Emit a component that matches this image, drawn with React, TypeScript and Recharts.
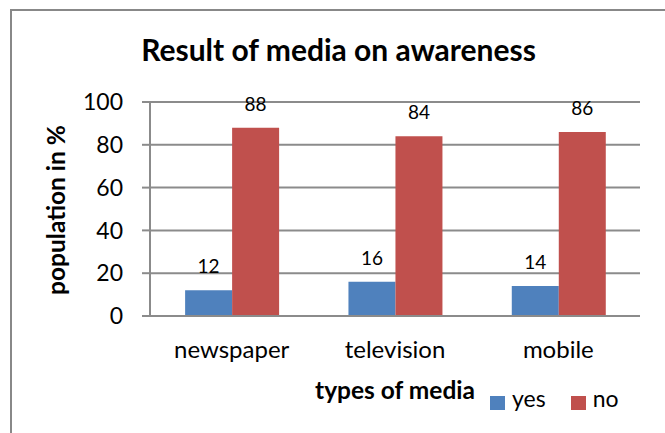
import { BarChart, Bar, XAxis, YAxis, CartesianGrid, LabelList, Label } from "recharts";

const categories = ["newspaper", "television", "mobile"];
const yesValues = [12, 16, 14];
const noValues = [88, 84, 86];
const yTicks = [0, 20, 40, 60, 80, 100];

const series = [
  { key: "yes", name: "yes", color: "#4F81BD" },
  { key: "no", name: "no", color: "#C0504D" },
];

const data = categories.map((c, i) => ({ name: c, yes: yesValues[i], no: noValues[i] }));

const GRID = "#8b8b8b";
const FONT = "Lato, 'Open Sans', sans-serif";

const YLabel = ({ viewBox }: any) => {
  const cy = viewBox.y + viewBox.height / 2 + 1;
  const x = 65;
  return (
    <text
      x={x}
      y={cy}
      transform={`rotate(-90 ${x} ${cy})`}
      textAnchor="middle"
      fontSize={24.5}
      fontWeight="bold"
      fill="#000"
    >
      population in %
    </text>
  );
};

const XLabel = ({ viewBox }: any) => (
  <text
    x={viewBox.x + viewBox.width / 2}
    y={viewBox.y + 83}
    textAnchor="middle"
    fontSize={24.5}
    fontWeight="bold"
    fill="#000"
  >
    types of media
  </text>
);

const App = () => {
  return (
    <div
      style={{
        position: "absolute",
        left: 0,
        top: 0,
        width: 665,
        height: 433,
        overflow: "hidden",
        background: "#fff",
        fontFamily: FONT,
      }}
    >
      {/* chart frame */}
      <div
        style={{
          position: "absolute",
          left: 10,
          top: 9,
          width: 700,
          height: 500,
          border: "2px solid #888",
          boxSizing: "border-box",
        }}
      />
      <svg width={665} height={80} style={{ position: "absolute", left: 0, top: 0 }}>
        <text x={338.5} y={60.5} textAnchor="middle" fontSize={30} fontWeight="bold" fill="#000">
          Result of media on awareness
        </text>
      </svg>
      <div style={{ position: "absolute", left: 0, top: 0 }}>
        <BarChart
          width={665}
          height={433}
          data={data}
          margin={{ top: 102, right: 25, left: 0, bottom: 87 }}
          barCategoryGap="21.5%"
          barGap={0}
        >
          <CartesianGrid vertical={false} stroke={GRID} strokeWidth={2} />
          <XAxis
            dataKey="name"
            height={30}
            tickLine={false}
            tickSize={0}
            tickMargin={25}
            axisLine={{ stroke: GRID, strokeWidth: 2 }}
            tick={{ fontSize: 24, fill: "#000" }}
            interval={0}
          >
            <Label content={XLabel} />
          </XAxis>
          <YAxis
            width={150}
            domain={[0, 100]}
            ticks={yTicks}
            tickSize={8}
            tickMargin={19}
            axisLine={{ stroke: GRID, strokeWidth: 2 }}
            tickLine={{ stroke: GRID, strokeWidth: 2 }}
            tick={{ fontSize: 23, fill: "#000" }}
          >
            <Label content={YLabel} />
          </YAxis>
          {series.map((s) => (
            <Bar key={s.key} dataKey={s.key} name={s.name} fill={s.color} isAnimationActive={false}>
              <LabelList dataKey={s.key} position="top" offset={17} fontSize={19} fill="#000" />
            </Bar>
          ))}
        </BarChart>
      </div>
      {/* legend */}
      <div style={{ position: "absolute", left: 490, top: 396, display: "flex" }}>
        {series.map((s) => (
          <div key={s.key} style={{ display: "flex", alignItems: "center", height: 14, marginRight: 25 }}>
            <div style={{ width: 15, height: 14, background: s.color, marginRight: 7 }} />
            <span style={{ fontSize: 23, lineHeight: "14px", position: "relative", top: -5 }}>{s.name}</span>
          </div>
        ))}
      </div>
    </div>
  );
};

export default App;
